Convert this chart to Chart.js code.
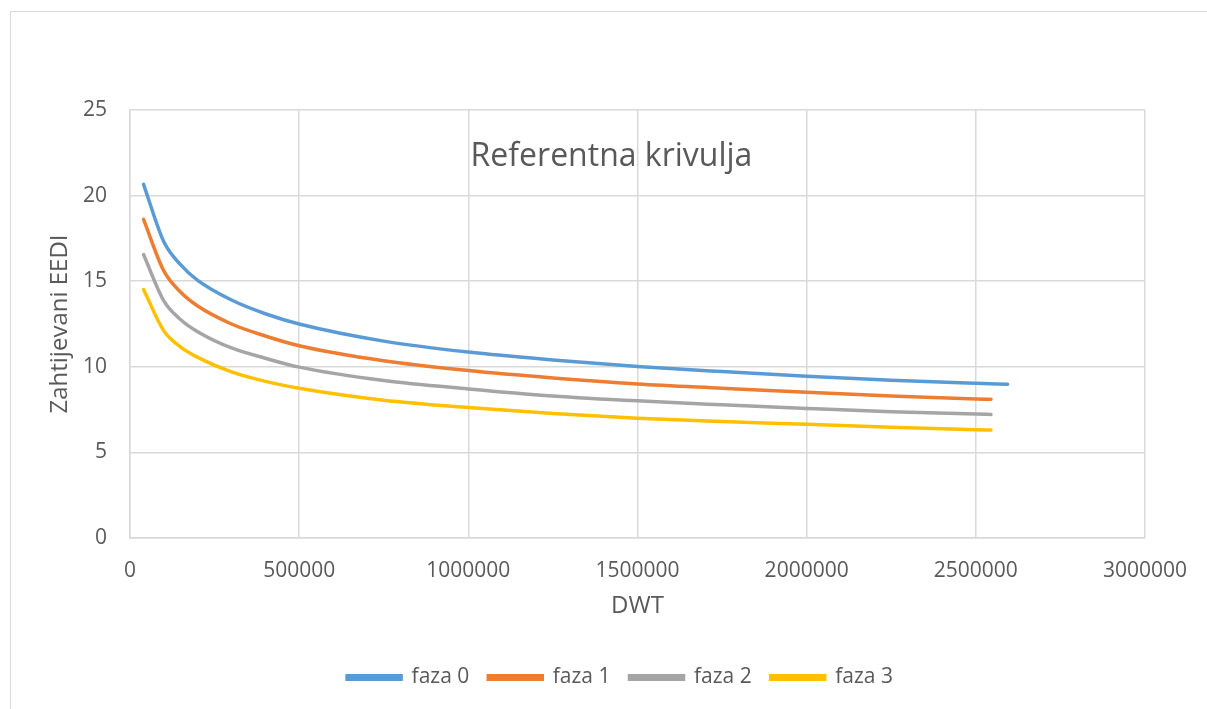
<!DOCTYPE html>
<html>
<head>
<meta charset="utf-8">
<script src="https://cdn.jsdelivr.net/npm/chart.js@4"></script>
<style>
  html, body { margin: 0; padding: 0; background: #fff; }
  #okvir { position: absolute; left: 10px; top: 11px; width: 1197px; height: 698px;
           border-left: 1px solid #d9d9d9; border-top: 1px solid #d9d9d9; }
  #wrap { position: absolute; left: 0; top: 0; width: 1207px; height: 709px; }
</style>
</head>
<body>
<div id="okvir"></div>
<div id="wrap"><canvas id="graf"></canvas></div>
<script>
// DWT tocke (ocitano sa slike)
const dwtFaza0 = [40000, 100000, 150000, 200000, 300000, 400000, 500000, 750000, 1000000, 1250000, 1500000, 1750000, 2000000, 2250000, 2500000, 2594000];
const dwtOstale = [40000, 100000, 150000, 200000, 300000, 400000, 500000, 750000, 1000000, 1250000, 1500000, 1750000, 2000000, 2250000, 2500000, 2545000];

const faza0 = [20.66, 17.3, 15.95, 15.05, 13.9, 13.1, 12.5, 11.5, 10.86, 10.4, 10.02, 9.72, 9.45, 9.22, 9.04, 8.98];
const faza1 = [18.61, 15.6, 14.35, 13.55, 12.5, 11.8, 11.23, 10.35, 9.78, 9.35, 9.0, 8.75, 8.51, 8.3, 8.12, 8.10];
const faza2 = [16.56, 13.85, 12.75, 12.05, 11.1, 10.5, 9.98, 9.2, 8.71, 8.3, 8.01, 7.78, 7.57, 7.38, 7.24, 7.22];
const faza3 = [14.51, 12.1, 11.15, 10.55, 9.7, 9.15, 8.75, 8.05, 7.62, 7.27, 6.99, 6.8, 6.64, 6.47, 6.33, 6.31];

const nazivi = ["faza 0", "faza 1", "faza 2", "faza 3"];
const boje = ["#5b9bd5", "#ed7d31", "#a5a5a5", "#ffc000"];

const xTicks = [0, 500000, 1000000, 1500000, 2000000, 2500000, 3000000];
const yTicks = [0, 5, 10, 15, 20, 25];

function tocke(xs, ys) {
    return xs.map((x, i) => ({ x: x, y: ys[i] }));
}

const serije = [
    tocke(dwtFaza0, faza0),
    tocke(dwtOstale, faza1),
    tocke(dwtOstale, faza2),
    tocke(dwtOstale, faza3)
];

const FONT = "'Open Sans', sans-serif";
const SIVA = "#595959";
const MREZA = "#d9d9d9";

// naslov grafa i naslov y osi crtamo sami (kao u Excelu)
const naslovPlugin = {
    id: 'naslov',
    afterLayout(chart) {
        // legenda je u Excelu malo desno od sredine
        chart.legend.left += 11;
        chart.legend.right += 11;
    },
    afterDraw(chart) {
        const ctx = chart.ctx;
        const ca = chart.chartArea;
        ctx.save();
        ctx.fillStyle = SIVA;
        ctx.textAlign = "center";
        ctx.textBaseline = "middle";
        ctx.font = "32px " + FONT;
        ctx.fillText("Referentna krivulja", chart.width / 2 + 8, 157);
        ctx.translate(60, (ca.top + ca.bottom) / 2);
        ctx.rotate(-Math.PI / 2);
        ctx.font = "24px " + FONT;
        ctx.fillText("Zahtijevani EEDI", 0, 0);
        ctx.restore();
    }
};

new Chart(document.getElementById('graf'), {
    type: 'scatter',
    data: {
        datasets: serije.map((d, i) => ({
            label: nazivi[i],
            data: d,
            showLine: true,
            borderColor: boje[i],
            backgroundColor: boje[i],
            borderWidth: 3.5,
            pointRadius: 0,
            cubicInterpolationMode: 'monotone',
            borderCapStyle: 'round'
        }))
    },
    options: {
        responsive: true,
        maintainAspectRatio: false,
        animation: false,
        layout: { padding: { left: 72, right: 61, top: 110, bottom: 11 } },
        plugins: {
            tooltip: { enabled: false },
            legend: {
                position: 'bottom',
                labels: {
                    boxWidth: 54,
                    boxHeight: 3.5,
                    padding: 19,
                    color: SIVA,
                    font: { family: FONT, size: 21 }
                }
            }
        },
        scales: {
            x: {
                type: 'linear',
                min: 0,
                max: 3000000,
                afterBuildTicks: s => { s.ticks = xTicks.map(v => ({ value: v })); },
                afterFit: s => { s.height = 110; },
                grid: { color: MREZA, lineWidth: 1.5, drawTicks: false },
                border: { color: MREZA, width: 1.5 },
                ticks: {
                    color: SIVA,
                    padding: 20,
                    maxRotation: 0,
                    font: { family: FONT, size: 21 },
                    callback: v => String(v)
                },
                title: {
                    display: true,
                    text: 'DWT',
                    color: SIVA,
                    font: { family: FONT, size: 24 },
                    padding: { top: 0, bottom: 27 }
                }
            },
            y: {
                min: 0,
                max: 25,
                afterBuildTicks: s => { s.ticks = yTicks.map(v => ({ value: v })); },
                afterFit: s => { s.width = 58; },
                grid: { color: MREZA, lineWidth: 1.5, drawTicks: false },
                border: { color: MREZA, width: 1.5 },
                ticks: {
                    color: SIVA,
                    padding: 23,
                    font: { family: FONT, size: 21 }
                }
            }
        }
    },
    plugins: [naslovPlugin]
});
</script>
</body>
</html>
